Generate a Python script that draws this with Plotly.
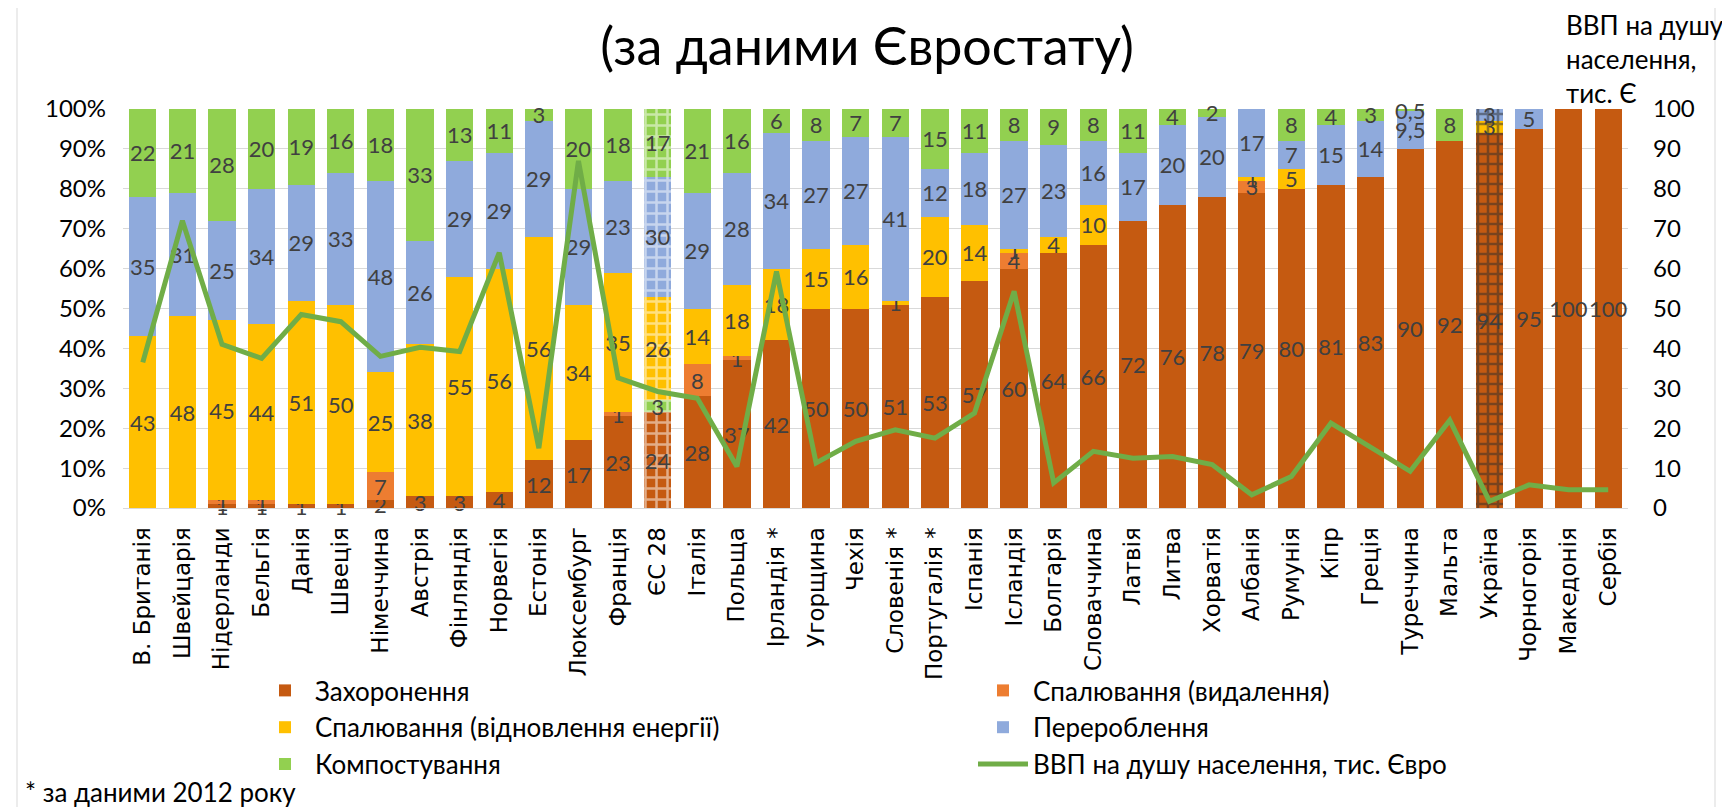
import plotly.graph_objects as go

countries = ["В. Британія", "Швейцарія", "Нідерланди", "Бельгія", "Данія", "Швеція",
             "Німеччина", "Австрія", "Фінляндія", "Норвегія", "Естонія", "Люксембург",
             "Франція", "ЄС 28", "Італія", "Польща", "Ірландія *", "Угорщина", "Чехія",
             "Словенія *", "Португалія *", "Іспанія", "Ісландія", "Болгарія", "Словаччина",
             "Латвія", "Литва", "Хорватія", "Албанія", "Румунія", "Кіпр", "Греція",
             "Туреччина", "Мальта", "Україна", "Чорногорія", "Македонія", "Сербія"]

landfill = [0, 0, 1, 1, 1, 1, 2, 3, 3, 4, 12, 17, 23, 24, 28, 37, 42, 50, 50, 51, 53, 57,
            60, 64, 66, 72, 76, 78, 79, 80, 81, 83, 90, 92, 94, 95, 100, 100]
incin_disposal = [0, 0, 1, 1, 0, 0, 7, 0, 0, 0, 0, 0, 1, 3, 8, 1, 0, 0, 0, 0, 0, 0,
                  4, 0, 0, 0, 0, 0, 3, 0, 0, 0, 0, 0, 0, 0, 0, 0]
incin_energy = [43, 48, 45, 44, 51, 50, 25, 38, 55, 56, 56, 34, 35, 26, 14, 18, 18, 15, 16, 1,
                20, 14, 1, 4, 10, 0, 0, 0, 1, 5, 0, 0, 0, 0, 3, 0, 0, 0]
recycling = [35, 31, 25, 34, 29, 33, 48, 26, 29, 29, 29, 29, 23, 30, 29, 28, 34, 27, 27, 41,
             12, 18, 27, 23, 16, 17, 20, 20, 17, 7, 15, 14, 9.5, 0, 3, 5, 0, 0]
composting = [22, 21, 28, 20, 19, 16, 18, 33, 13, 11, 3, 20, 18, 17, 21, 16, 6, 8, 7, 7,
              15, 11, 8, 9, 8, 11, 4, 2, 0, 8, 4, 3, 0.5, 8, 0, 0, 0, 0]
gdp = [36.5, 72, 41, 37.5, 48.5, 46.7, 38, 40.3, 39.2, 64, 15, 87, 32.6, 29.2, 27.5, 10.4,
       59.3, 11.3, 16.7, 19.6, 17.5, 23.8, 54.3, 6.3, 14.2, 12.5, 12.9, 10.9, 3.3, 7.9,
       21.3, 15.4, 9.2, 22, 1.7, 5.8, 4.6, 4.6]

pct_ticks = [0, 10, 20, 30, 40, 50, 60, 70, 80, 90, 100]
pct_labels = ["0%", "10%", "20%", "30%", "40%", "50%", "60%", "70%", "80%", "90%", "100%"]
gdp_labels = ["0", "10", "20", "30", "40", "50", "60", "70", "80", "90", "100"]

series_names = ["Захоронення", "Спалювання (видалення)", "Спалювання (відновлення енергії)",
                "Перероблення", "Компостування"]
series_values = [landfill, incin_disposal, incin_energy, recycling, composting]
series_colors = ["#C55A11", "#ED7D31", "#FFC000", "#8FAADC", "#92D050"]
line_name = "ВВП на душу населення, тис. Євро"

FONT = "Lato, Carlito, Calibri, sans-serif"
TXT = "#404040"
OFF = 8  # page body margin of the html page
W, H = 1730 - OFF, 807 - OFF
# plot area in page pixels: x 123..1628, y 109..508
L, R = 123 - OFF, W - (1628 - OFF)
T, B = 109 - OFF, H - (508 - OFF)
PW, PH = W - L - R, H - T - B

def px_x(page_px):
    return (page_px - OFF - L) / PW

def px_y(page_py):
    return (H - B - (page_py - OFF)) / PH

def label(v):
    if v == 0 or v is None:
        return ""
    return str(int(v)) if float(v).is_integer() else str(v).replace(".", ",")

# hatched (patterned) categories: EU average and Ukraine
groups = [
    ("normal", None),
    ("ЄС 28", dict(shape="+", fgcolor="white", fillmode="overlay", size=11, solidity=0.4)),
    ("Україна", dict(shape="+", fgcolor="#2b2b2b", fillmode="overlay", size=10, solidity=0.45)),
]
special = [g for g, _ in groups if g != "normal"]

fig = go.Figure()
for si, (name, vals, col) in enumerate(zip(series_names, series_values, series_colors)):
    for gname, pat in groups:
        if gname == "normal":
            ys = [None if c in special else v for c, v in zip(countries, vals)]
        else:
            ys = [v if c == gname else None for c, v in zip(countries, vals)]
        c_use = col
        if gname == "ЄС 28" and name == "Спалювання (видалення)":
            c_use = "#92D050"
        marker = dict(color=c_use, line=dict(width=0))
        if pat:
            marker["pattern"] = pat
        fig.add_trace(go.Bar(
            x=countries, y=ys, name=name,
            legend="legend" if si % 2 == 0 else "legend2",
            showlegend=(gname == "normal"), legendgroup=name,
            marker=marker,
            text=[label(v) for v in ys], textposition="inside", insidetextanchor="middle",
            textangle=0, textfont=dict(family=FONT, size=22, color=TXT),
            constraintext="none", cliponaxis=False,
        ))

fig.add_trace(go.Scatter(
    x=countries, y=gdp, name=line_name, yaxis="y2", legend="legend2",
    mode="lines", line=dict(color="#70AD47", width=5),
))

legend_common = dict(orientation="v", xanchor="left", yanchor="top",
                     font=dict(family=FONT, size=26, color="#000000"),
                     traceorder="normal", itemwidth=50, bgcolor="rgba(0,0,0,0)")

fig.update_layout(
    width=W, height=H,
    barmode="stack", bargap=0.31,
    paper_bgcolor="white", plot_bgcolor="white",
    margin=dict(l=L, r=R, t=T, b=B, autoexpand=False),
    font=dict(family=FONT, color="#000000"),
    uniformtext=dict(minsize=22, mode="show"),
    title=dict(text="(за даними Євростату)", x=(867 - OFF) / W, xanchor="center",
               y=1 - (47 - OFF) / H, yanchor="middle", yref="container",
               font=dict(family=FONT, size=52, color="#000000")),
    xaxis=dict(tickangle=-90, tickfont=dict(family="DejaVu Sans", size=23, color="#000000"),
               ticklabelstandoff=9,
               showline=True, linecolor="#D9D9D9", ticks="", showgrid=False),
    yaxis=dict(range=[0, 100], tickmode="array", tickvals=pct_ticks, ticktext=pct_labels,
               tickfont=dict(family=FONT, size=24, color="#000000"), ticklabelstandoff=16,
               showgrid=True, gridcolor="#D9D9D9", gridwidth=1, zeroline=False, ticks=""),
    yaxis2=dict(range=[0, 100], tickmode="array", tickvals=pct_ticks, ticktext=gdp_labels,
                overlaying="y", side="right", ticklabelstandoff=24,
                tickfont=dict(family=FONT, size=24, color="#000000"),
                showgrid=False, zeroline=False),
    legend=dict(x=px_x(255), y=px_y(667), **legend_common),
    legend2=dict(x=px_x(973), y=px_y(667), **legend_common),
    showlegend=True,
)

fig.add_annotation(text="ВВП на душу<br>населення,<br>тис. Є", xref="paper", yref="paper",
                   x=px_x(1564), y=px_y(7), xanchor="left", yanchor="top", align="left",
                   showarrow=False, font=dict(family=FONT, size=26, color="#000000"))
fig.add_annotation(text="* за даними 2012 року", xref="paper", yref="paper",
                   x=px_x(23), y=px_y(792), xanchor="left", yanchor="middle", align="left",
                   showarrow=False, font=dict(family=FONT, size=26, color="#000000"))
fig.add_shape(type="rect", xref="paper", yref="paper",
              x0=px_x(17), x1=px_x(1715), y0=px_y(1000), y1=px_y(4),
              line=dict(color="#D9D9D9", width=1), layer="below")

fig.write_html("out.html")
